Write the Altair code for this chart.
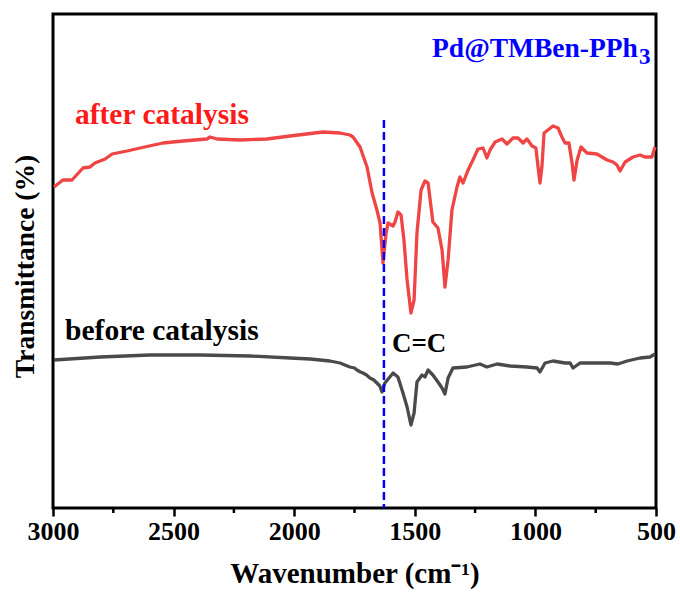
import altair as alt
import pandas as pd

# ---- data (wavenumber cm-1, transmittance in arbitrary units) ----
after_wn = [2996, 2959, 2921, 2876, 2847, 2826, 2784, 2755, 2693, 2639, 2544, 2461, 2362, 2349, 2320,
            2225, 2113, 2017, 1881, 1810, 1769, 1756, 1727, 1698, 1677, 1657, 1644, 1632, 1619, 1611,
            1590, 1582, 1570, 1557, 1545, 1532, 1516, 1503, 1491, 1474, 1458, 1445, 1425, 1404, 1387,
            1375, 1362, 1346, 1325, 1313, 1300, 1279, 1259, 1238, 1217, 1201, 1188, 1167, 1138, 1118,
            1093, 1072, 1051, 1035, 1014, 998, 989, 981, 973, 964, 927, 906, 890, 877, 861, 848, 840,
            827, 811, 786, 745, 703, 678, 662, 649, 628, 595, 566, 546, 517, 504]
after_t = [321, 328, 328, 340, 341, 345, 349, 354, 357, 360, 365, 367, 369, 371, 369,
           368, 369, 372, 376, 375, 373, 371, 361, 341, 315, 298, 285, 245, 275, 285,
           282, 286, 296, 293, 268, 228, 195, 208, 275, 318, 327, 325, 286, 280, 258,
           221, 248, 298, 321, 331, 325, 338, 348, 359, 360, 350, 358, 366, 369, 364,
           370, 370, 365, 369, 362, 360, 341, 325, 341, 375, 382, 380, 371, 365, 365, 345, 328,
           348, 361, 355, 354, 348, 346, 343, 337, 346, 351, 353, 351, 351, 361]

before_wn = [2996, 2805, 2598, 2391, 2183, 2017, 1934, 1852, 1810, 1790, 1769, 1750, 1740, 1725, 1715,
             1700, 1686, 1670, 1657, 1645, 1636, 1624, 1590, 1570, 1549, 1532, 1516, 1503, 1491, 1470,
             1458, 1445, 1425, 1404, 1387, 1375, 1362, 1342, 1284, 1230, 1201, 1159, 1105, 1035, 993,
             981, 960, 927, 877, 856, 844, 815, 691, 658, 620, 566, 525, 504]
before_t = [148, 151, 153, 153, 152, 150, 149, 147, 145, 143, 141, 140, 138, 136, 135,
            133, 130, 128, 125, 122, 116, 125, 135, 131, 115, 101, 83, 95, 126, 133,
            131, 138, 133, 126, 120, 114, 130, 140, 141, 144, 141, 144, 142, 141, 140,
            136, 145, 147, 145, 145, 140, 145, 145, 144, 147, 150, 151, 154]

xticks = [3000, 2500, 2000, 1500, 1000, 500]
minor_ticks = [2750, 2250, 1750, 1250, 750]
cc_position = [1628]

RED = "#f04545"
GRAY = "#4a4a4a"
FONT = "Liberation Serif"

df = pd.concat([
    pd.DataFrame({"wn": after_wn, "t": after_t, "s": "after catalysis"}),
    pd.DataFrame({"wn": before_wn, "t": before_t, "s": "before catalysis"}),
])

xscale = alt.Scale(domain=[500, 3000], reverse=True, nice=False)
yscale = alt.Scale(domain=[0, 494], nice=False)

lines = alt.Chart(df).mark_line(strokeWidth=3.3, strokeJoin="round").encode(
    x=alt.X("wn:Q", scale=xscale,
            axis=alt.Axis(values=xticks, format="d", title="Wavenumber (cm⁻¹)",
                          labelFont=FONT, labelFontSize=26, labelFontWeight="bold", labelColor="black",
                          labelPadding=2, labelFlush=False,
                          tickSize=8, tickWidth=2.5, tickColor="black", domain=False, grid=False,
                          titleFont=FONT, titleFontSize=29, titleFontWeight="bold", titleColor="black",
                          titleY=74, titleBaseline="alphabetic")),
    y=alt.Y("t:Q", scale=yscale,
            axis=alt.Axis(labels=False, ticks=False, domain=False, grid=False,
                          title="Transmittance (%)", titleFont=FONT, titleFontSize=27.5,
                          titleFontWeight="bold", titleColor="black",
                          titleX=-28, titleY=252, titleBaseline="middle")),
    color=alt.Color("s:N", scale=alt.Scale(domain=["after catalysis", "before catalysis"],
                                           range=[RED, GRAY]), legend=None),
    order=alt.Order("wn:Q", sort="descending"),
)

minor = alt.Chart(pd.DataFrame({"wn": minor_ticks})).mark_rule(color="black", strokeWidth=2.5).encode(
    x=alt.X("wn:Q", scale=xscale),
    y=alt.value(494), y2=alt.value(499),
)

vline = alt.Chart(pd.DataFrame({"wn": cc_position, "top": [388]})).mark_rule(
    color="#0000ff", strokeWidth=2.5, strokeDash=[8, 4]).encode(
    x=alt.X("wn:Q", scale=xscale),
    y=alt.Y("top:Q", scale=yscale), y2=alt.datum(0),
)

def label(text, wn, t, color, size, align="left"):
    return alt.Chart(pd.DataFrame({"wn": [wn], "t": [t], "label": [text]})).mark_text(
        font=FONT, fontSize=size, fontWeight="bold", color=color, align=align,
        baseline="alphabetic").encode(
        x=alt.X("wn:Q", scale=xscale), y=alt.Y("t:Q", scale=yscale), text="label:N")

texts = [
    label("Pd@TMBen-PPh", 575, 451, "#0000ff", 27.5, align="right"),
    label("3", 570, 444, "#0000ff", 23),
    label("after catalysis", 2909, 384, "#ff1a1a", 29.5),
    label("before catalysis", 2950, 168, "black", 29.5),
    label("C=C", 1595, 156, "black", 27),
]

chart = alt.layer(lines, minor, vline, *texts).properties(
    width=603, height=494,
    autosize=alt.AutoSizeParams(type="none"),
    padding={"left": 53, "top": 14, "right": 24, "bottom": 84},
    background="white",
).configure(font=FONT).configure_view(stroke="black", strokeWidth=3)

chart.save("out.html", embed_options={"renderer": "svg", "actions": False})
